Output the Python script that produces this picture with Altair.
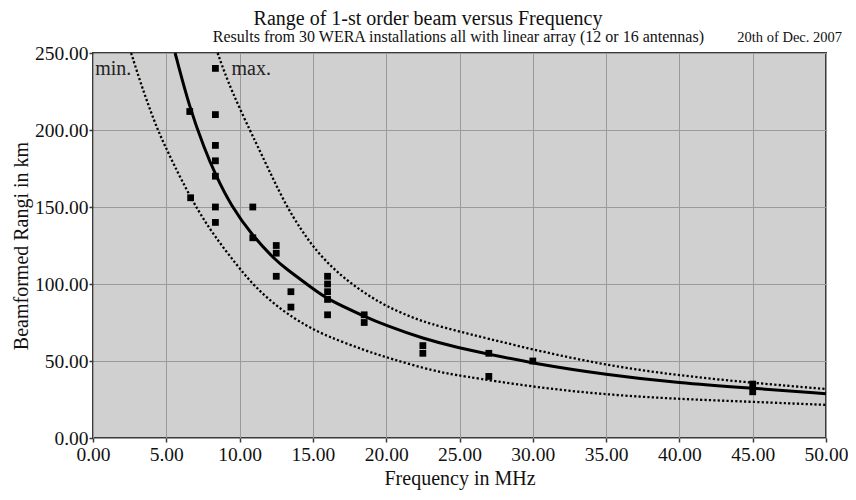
import altair as alt
import pandas as pd

# ---- measured data (30 installations) ----
pt_freq = [8.35, 8.35, 8.35, 8.35, 8.35, 8.35, 8.35,
           6.6, 6.66,
           10.9, 10.9,
           12.5, 12.5, 12.5,
           13.5, 13.5,
           16.0, 16.0, 16.0, 16.0, 16.0,
           18.5, 18.5,
           22.5, 22.5,
           27.0, 27.0,
           30.0,
           45.0, 45.0]
pt_range = [240, 210, 190, 180, 170, 150, 140,
            212, 156,
            150, 130,
            125, 120, 105,
            95, 85,
            105, 100, 95, 90, 80,
            80, 75,
            60, 55,
            55, 40,
            50,
            35, 30]

# ---- fitted curve (solid) ----
fit_f = [5.6, 6.6, 7.6, 8.35, 9.4, 10.9, 12.4, 13.1, 15.0, 16.0, 18.5, 20.0, 22.5, 25.0, 27.0, 30.0, 35.0, 40.0, 45.0, 50.0]
fit_r = [250, 214, 188, 171, 151, 131, 116, 110.4, 97, 90, 79, 73, 64.5, 58.4, 54.5, 48.5, 41.1, 35.7, 32.3, 28.8]

# ---- lower bound (dotted, "min.") ----
min_f = [2.6, 3.4, 4.4, 5.1, 6.0, 7.2, 8.3, 9.7, 11.0, 12.8, 14.6, 16.0, 18.5, 20.3, 23.3, 25.0, 30.0, 35.0, 40.0, 45.0, 50.0]
min_r = [250, 226, 200, 186, 168, 147, 131, 113.6, 98.4, 83.3, 72.5, 66, 57, 51.5, 43.3, 40.5, 33.1, 28.1, 25.3, 23.5, 21.5]

# ---- upper bound (dotted, "max.") ----
max_f = [8.5, 9.4, 11.2, 12.2, 13.2, 14.2, 15.0, 16.0, 17.1, 18.5, 20.0, 22.1, 24.0, 30.0, 35.0, 40.0, 45.0, 50.0]
max_r = [250, 226, 190, 170, 150.4, 135.3, 124.4, 113.6, 104, 94.2, 85.5, 76.8, 71.4, 57.3, 47.2, 40.5, 35.8, 31.8]

# ---- curve labels ----
lab_f = [0.15, 9.45]
lab_r = [236, 236]
lab_t = ["min.", "max."]

x_ticks = [0, 5, 10, 15, 20, 25, 30, 35, 40, 45, 50]
y_ticks = [0, 25, 50, 75, 100, 125, 150, 175, 200, 225, 250]

title_text = ["Range of 1-st order beam versus Frequency"]
subtitle_left = ["Results from 30 WERA installations all with linear array (12 or 16 antennas)"]
subtitle_right = ["20th of Dec. 2007"]

FONT = "Liberation Serif"

pts_df = pd.DataFrame({"f": pt_freq, "r": pt_range})
fit_df = pd.DataFrame({"f": fit_f, "r": fit_r})
min_df = pd.DataFrame({"f": min_f, "r": min_r})
max_df = pd.DataFrame({"f": max_f, "r": max_r})
lab_df = pd.DataFrame({"f": lab_f, "r": lab_r, "t": lab_t})

x_enc = alt.X("f:Q",
              scale=alt.Scale(domain=[0, 50], nice=False, zero=False),
              axis=alt.Axis(title="Frequency in MHz", values=x_ticks, format=".2f",
                            labelFlush=False, labelOverlap=False,
                            labelPadding=3, titlePadding=5))
y_enc = alt.Y("r:Q",
              scale=alt.Scale(domain=[0, 250], nice=False),
              axis=alt.Axis(title="Beamformed Rangi in km", values=y_ticks, format=".2f",
                            labelOverlap=False, labelPadding=1, titlePadding=3))

fit_line = alt.Chart(fit_df).mark_line(color="black", strokeWidth=3, interpolate="basis").encode(
    x=x_enc, y=y_enc, order="f:Q")
min_line = alt.Chart(min_df).mark_line(color="black", strokeWidth=2.3, strokeDash=[2.2, 2.2],
                                       interpolate="basis").encode(x="f:Q", y="r:Q", order="f:Q")
max_line = alt.Chart(max_df).mark_line(color="black", strokeWidth=2.3, strokeDash=[2.2, 2.2],
                                       interpolate="basis").encode(x="f:Q", y="r:Q", order="f:Q")
points = alt.Chart(pts_df).mark_square(color="black", size=46, opacity=1).encode(x="f:Q", y="r:Q")
labels = alt.Chart(lab_df).mark_text(font=FONT, fontSize=20, align="left", baseline="alphabetic",
                                     color="#222").encode(x="f:Q", y="r:Q", text="t:N")
title_mark = alt.Chart(pd.DataFrame({"t": title_text})).mark_text(
    font=FONT, fontSize=20, align="center", baseline="alphabetic", color="#111").encode(
    x=alt.value(335), y=alt.value(-28), text="t:N")
sub1 = alt.Chart(pd.DataFrame({"t": subtitle_left})).mark_text(
    font=FONT, fontSize=16, align="right", baseline="alphabetic", color="#111").encode(
    x=alt.value(611), y=alt.value(-11), text="t:N")
sub2 = alt.Chart(pd.DataFrame({"t": subtitle_right})).mark_text(
    font=FONT, fontSize=14.5, align="right", baseline="alphabetic", color="#111").encode(
    x=alt.value(749), y=alt.value(-11), text="t:N")

chart = alt.layer(fit_line, min_line, max_line, points, labels, title_mark, sub1, sub2).properties(
    width=733, height=385,
    autosize=alt.AutoSizeParams(type="none"),
    padding={"left": 85, "top": 45, "right": 22, "bottom": 55},
).configure_view(
    fill="#d0d0d0", stroke="#3a3a3a", strokeWidth=2
).configure_axis(
    labelFont=FONT, titleFont=FONT, labelFontSize=19.5, titleFontSize=20,
    labelColor="#111", titleColor="#111", titleFontWeight="normal",
    grid=True, gridColor="#9a9a9a", gridWidth=1, gridOpacity=1,
    domain=False, tickColor="#3a3a3a", tickSize=4, tickWidth=1.5
)

chart.save("out.html", embed_options={"renderer": "svg", "actions": False})
